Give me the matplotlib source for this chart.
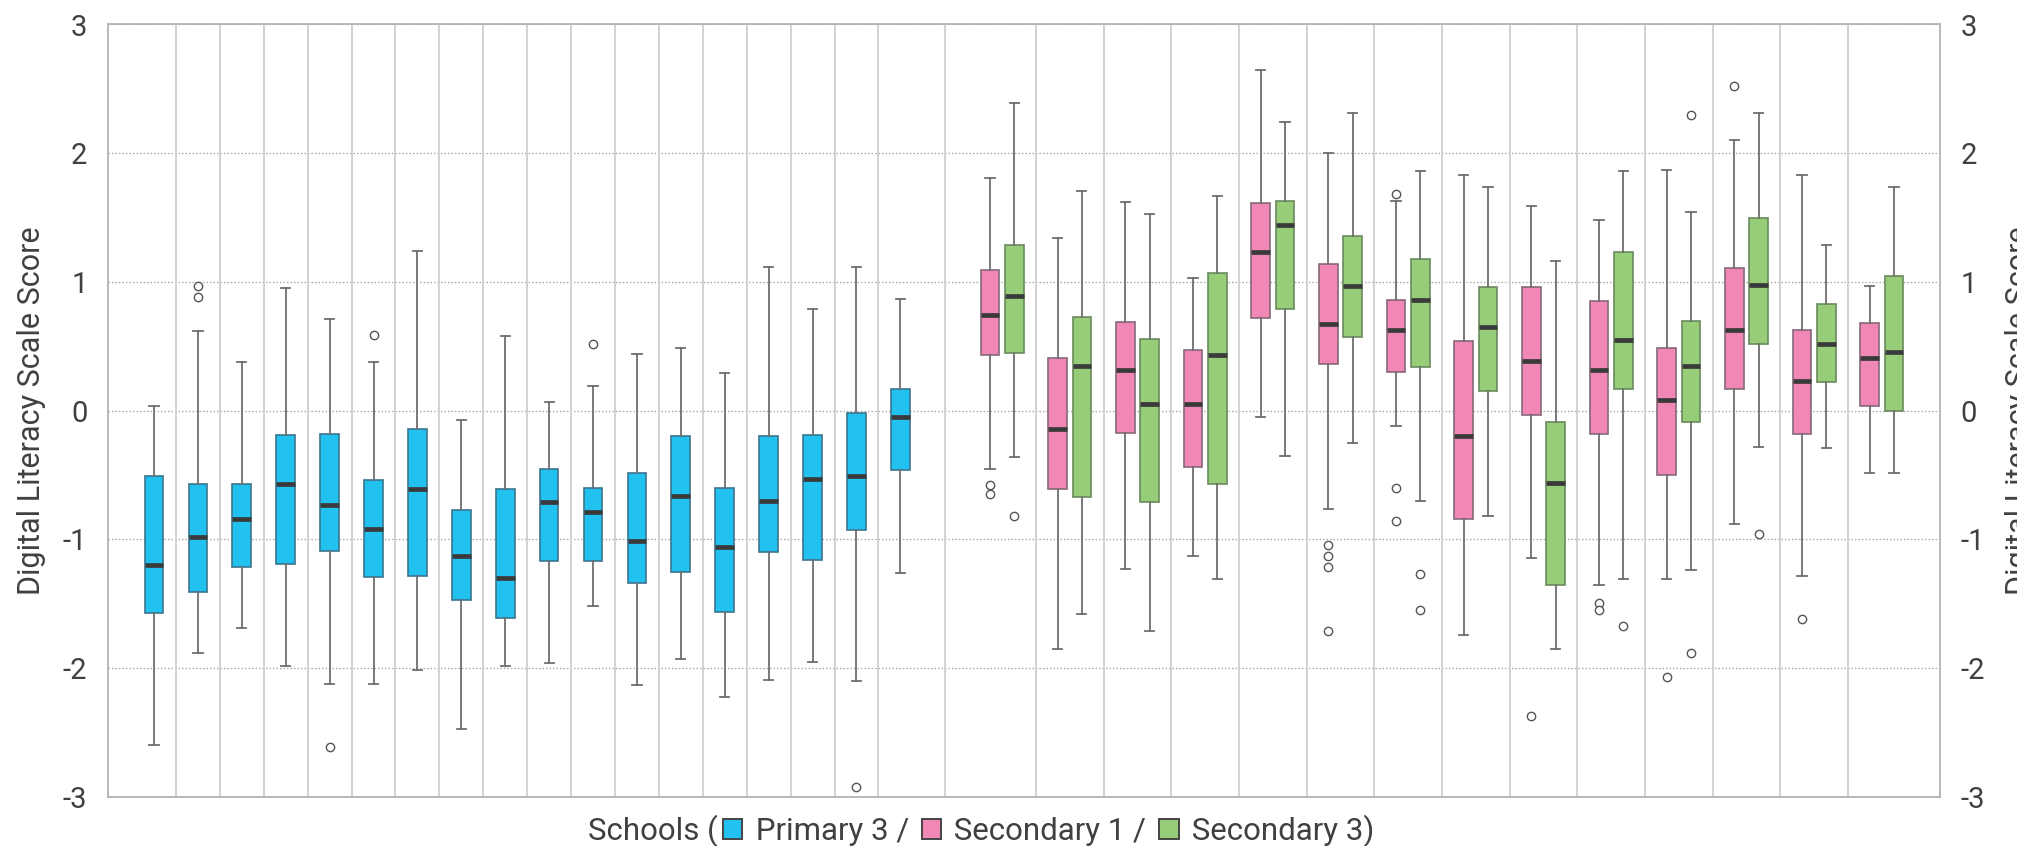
import numpy as np
import matplotlib
matplotlib.use("Agg")
import matplotlib.pyplot as plt
from matplotlib.offsetbox import TextArea, DrawingArea, HPacker, AnchoredOffsetbox
from matplotlib.patches import Rectangle

plt.rcParams['font.family'] = ['Roboto', 'DejaVu Sans']

# ---- Primary 3 (one box per school) ----
p3_whislo = [-2.60, -1.88, -1.69, -1.98, -2.12, -2.12, -2.01, -2.47, -1.98,
             -1.96, -1.52, -2.13, -1.93, -2.22, -2.09, -1.95, -2.10, -1.26]
p3_q1 = [-1.57, -1.41, -1.21, -1.19, -1.09, -1.29, -1.28, -1.47, -1.61,
         -1.17, -1.17, -1.34, -1.25, -1.56, -1.10, -1.16, -0.93, -0.46]
p3_med = [-1.20, -0.98, -0.84, -0.57, -0.73, -0.92, -0.61, -1.13, -1.30,
          -0.71, -0.79, -1.01, -0.66, -1.06, -0.70, -0.53, -0.51, -0.05]
p3_q3 = [-0.51, -0.57, -0.57, -0.19, -0.18, -0.54, -0.14, -0.77, -0.61,
         -0.45, -0.60, -0.48, -0.20, -0.60, -0.20, -0.19, -0.02, 0.17]
p3_whishi = [0.04, 0.62, 0.38, 0.95, 0.71, 0.38, 1.24, -0.07, 0.58,
             0.07, 0.19, 0.44, 0.49, 0.29, 1.12, 0.79, 1.12, 0.87]
p3_fliers = [[], [0.97, 0.88], [], [], [-2.61], [0.59], [], [], [],
             [], [0.52], [], [], [], [], [], [-2.92], []]

# ---- Secondary 1 ----
s1_whislo = [-0.45, -1.85, -1.23, -1.13, -0.05, -0.76, -0.12, -1.74, -1.14,
             -1.35, -1.31, -0.88, -1.28, -0.48]
s1_q1 = [0.43, -0.61, -0.17, -0.44, 0.72, 0.36, 0.30, -0.84, -0.03,
         -0.18, -0.50, 0.17, -0.18, 0.04]
s1_med = [0.74, -0.14, 0.32, 0.05, 1.23, 0.67, 0.63, -0.20, 0.39,
          0.32, 0.08, 0.63, 0.23, 0.41]
s1_q3 = [1.09, 0.41, 0.69, 0.47, 1.61, 1.14, 0.86, 0.54, 0.96,
         0.85, 0.49, 1.11, 0.63, 0.68]
s1_whishi = [1.81, 1.34, 1.62, 1.03, 2.65, 2.00, 1.63, 1.83, 1.59,
             1.48, 1.87, 2.10, 1.83, 0.97]
s1_fliers = [[-0.58, -0.65], [], [], [], [], [-1.04, -1.13, -1.21, -1.71],
             [1.68, -0.60, -0.86], [], [-2.37], [-1.49, -1.55], [-2.07],
             [2.52], [-1.62], []]

# ---- Secondary 3 ----
s3_whislo = [-0.36, -1.58, -1.71, -1.31, -0.35, -0.25, -0.70, -0.82, -1.85,
             -1.31, -1.24, -0.28, -0.29, -0.48]
s3_q1 = [0.45, -0.67, -0.71, -0.57, 0.79, 0.57, 0.34, 0.15, -1.35,
         0.17, -0.09, 0.52, 0.22, 0.00]
s3_med = [0.89, 0.35, 0.05, 0.43, 1.44, 0.97, 0.86, 0.65, -0.56,
          0.55, 0.35, 0.98, 0.52, 0.46]
s3_q3 = [1.29, 0.73, 0.56, 1.07, 1.63, 1.36, 1.18, 0.96, -0.09,
         1.23, 0.70, 1.50, 0.83, 1.05]
s3_whishi = [2.39, 1.71, 1.53, 1.67, 2.24, 2.31, 1.86, 1.74, 1.16,
             1.86, 1.54, 2.31, 1.29, 1.74]
s3_fliers = [[-0.82], [], [], [], [], [], [-1.27, -1.55], [], [],
             [-1.67], [2.30, -1.88], [-0.96], [], []]

series_names = ['Primary 3', 'Secondary 1', 'Secondary 3']
series_colors = ['#22C2F0', '#F087B5', '#97CD79']
edge_colors = ['#3b7590', '#86687a', '#6a8a5c']

y_ticks = [-3, -2, -1, 0, 1, 2, 3]
y_label = 'Digital Literacy Scale Score'
x_label_prefix = 'Schools ('


def make_stats(lo, q1, med, q3, hi, fl):
    return [dict(whislo=a, q1=b, med=c, q3=d, whishi=e, fliers=f)
            for a, b, c, d, e, f in zip(lo, q1, med, q3, hi, fl)]


stats = [
    make_stats(p3_whislo, p3_q1, p3_med, p3_q3, p3_whishi, p3_fliers),
    make_stats(s1_whislo, s1_q1, s1_med, s1_q3, s1_whishi, s1_fliers),
    make_stats(s3_whislo, s3_q1, s3_med, s3_q3, s3_whishi, s3_fliers),
]

# layout along x: primary schools one slot apart, secondary schools as pairs
n_p, n_s = len(p3_med), len(s1_med)
pos_p3 = np.arange(n_p, dtype=float)
sec_start = pos_p3[-1] + 2.04
pair_step = 1.5415
pair_off = 0.553
pos_s1 = sec_start + np.arange(n_s) * pair_step
pos_s3 = pos_s1 + pair_off
positions = [pos_p3, pos_s1, pos_s3]

# separators between schools
seps = list((pos_p3[:-1] + pos_p3[1:]) / 2)
seps.append((pos_p3[-1] + pos_s1[0]) / 2)
seps += list((pos_s3[:-1] + pos_s1[1:]) / 2)

W, H = 2017, 846
fig = plt.figure(figsize=(W / 100, H / 100), dpi=100)
ax = fig.add_axes([107.6 / W, 1 - 797 / H, (1940 - 107.6) / W, (797 - 24.5) / H])

txt_color = '#404040'

for x in seps:
    ax.axvline(x, color='#cfcfcf', linewidth=1.3, zorder=0.6)

for st, pos, fc, ec in zip(stats, positions, series_colors, edge_colors):
    ax.bxp(st, positions=pos, widths=0.426, capwidths=0.21, patch_artist=True,
           showfliers=True, manage_ticks=False,
           boxprops=dict(facecolor=fc, edgecolor=ec, linewidth=1.2),
           medianprops=dict(color='#3a3a3a', linewidth=3.4, solid_capstyle='butt'),
           whiskerprops=dict(color='#6e6e6e', linewidth=1.3),
           capprops=dict(color='#6e6e6e', linewidth=1.3),
           flierprops=dict(marker='o', markersize=6, markerfacecolor='white',
                           markeredgecolor='#555555', markeredgewidth=1.0))

ax.set_xlim(-1.057, 40.68)
ax.set_ylim(-3, 3)
ax.set_xticks([])
ax.set_yticks(y_ticks)
ax.set_yticklabels([str(t) for t in y_ticks])
ax.set_axisbelow(True)
ax.yaxis.grid(True, color='#a6a6a6', linestyle=(0, (1.2, 1.6)), linewidth=0.9)
ax.tick_params(axis='y', length=0, pad=14.5, labelsize=21, labelcolor=txt_color,
               left=False, right=False, labelleft=True, labelright=True)
for sp in ax.spines.values():
    sp.set_color('#b3b3b3')
    sp.set_linewidth(1.3)

# axis titles on both sides
fig.text(17 / W, 1 - 410.7 / H, y_label, rotation=90, ha='left', va='center',
         fontsize=22, color=txt_color)
fig.text(2005 / W, 1 - 410.7 / H, y_label, rotation=90, ha='left', va='center',
         fontsize=22, color=txt_color)

# x title with inline colour keys
tp = dict(fontsize=22.5, color=txt_color)


def swatch(color):
    s = 15.4
    da = DrawingArea(s, s, 0, 0)
    da.add_artist(Rectangle((0.7, 0.7), s - 1.4, s - 1.4, facecolor=color,
                            edgecolor='#454545', linewidth=1.4))
    return da


parts = [TextArea(x_label_prefix, textprops=tp)]
for i, (name, col) in enumerate(zip(series_names, series_colors)):
    parts.append(swatch(col))
    tail = ' / ' if i < len(series_names) - 1 else ')'
    parts.append(TextArea(' ' + name + tail, textprops=tp))
packer = HPacker(children=parts, align='baseline', pad=0, sep=3.0)
anch = AnchoredOffsetbox(loc='center', child=packer, pad=0, borderpad=0,
                         frameon=False, bbox_to_anchor=(981 / W, 1 - 830.5 / H),
                         bbox_transform=fig.transFigure)
fig.add_artist(anch)

fig.savefig('out.png', dpi=100)
